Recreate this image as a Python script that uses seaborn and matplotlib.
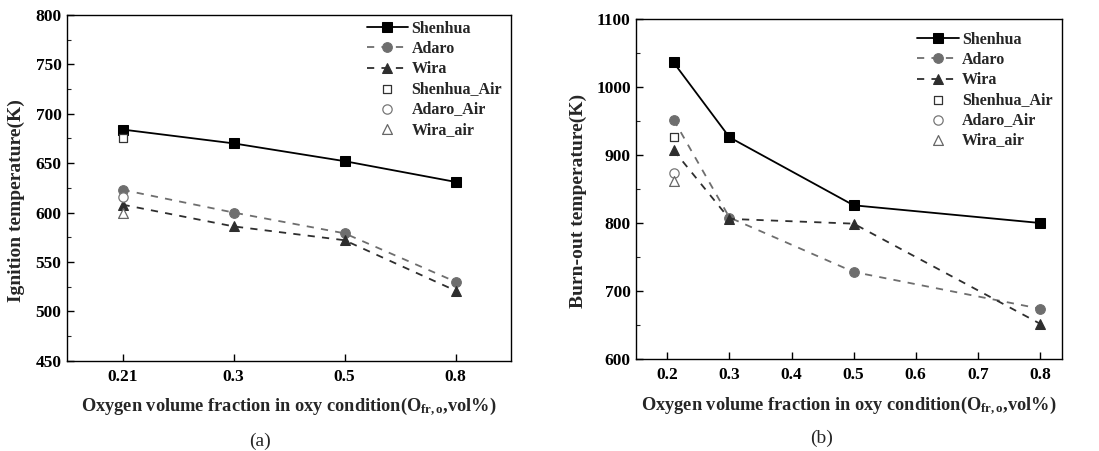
import matplotlib
matplotlib.use("Agg")
import matplotlib.pyplot as plt
import seaborn as sns
from matplotlib.ticker import MultipleLocator

sns.set_theme(style="ticks")
plt.rcParams['font.family'] = ['Liberation Serif', 'DejaVu Serif']
plt.rcParams['font.weight'] = 'bold'
plt.rcParams['mathtext.fontset'] = 'custom'
plt.rcParams['mathtext.rm'] = 'Liberation Serif:bold'
plt.rcParams['mathtext.bf'] = 'Liberation Serif:bold'
plt.rcParams['mathtext.it'] = 'Liberation Serif:bold'

# ---- data (a) ignition temperature ----
cats_a = ["0.21", "0.3", "0.5", "0.8"]
shenhua_a = [684, 670, 652, 631]
adaro_a = [623, 600, 579, 530]
wira_a = [608, 586, 572, 521]
air_x_a = ["0.21"]
shenhua_air_a = [675]
adaro_air_a = [616]
wira_air_a = [600]

# ---- data (b) burn-out temperature ----
x_b = [0.21, 0.3, 0.5, 0.8]
shenhua_b = [1036, 926, 826, 800]
adaro_b = [952, 808, 728, 674]
wira_b = [907, 806, 799, 652]
air_x_b = [0.21]
shenhua_air_b = [927]
adaro_air_b = [874]
wira_air_b = [862]

fig = plt.figure(figsize=(10.99, 4.51), dpi=100)
ax1 = fig.add_axes([0.061, 0.2, 0.404, 0.767])
ax2 = fig.add_axes([0.579, 0.204, 0.387, 0.754])

C_SH = "#000000"
C_AD = "#6e6e6e"
C_WI = "#2e2e2e"


def draw(ax, x, sh, ad, wi, ax_air, sha, ada, wia):
    sns.lineplot(x=x, y=sh, ax=ax, color=C_SH, marker="s", markersize=7,
                 markeredgecolor=C_SH, lw=1.3, label="Shenhua", sort=False)
    sns.lineplot(x=x, y=ad, ax=ax, color=C_AD, marker="o", markersize=7,
                 markeredgecolor=C_AD, lw=1.3, linestyle=(0, (4, 4)), label="Adaro", sort=False)
    sns.lineplot(x=x, y=wi, ax=ax, color=C_WI, marker="^", markersize=7,
                 markeredgecolor=C_WI, lw=1.3, linestyle=(0, (4, 4)), label="Wira", sort=False)
    sns.scatterplot(x=ax_air, y=sha, ax=ax, marker="s", s=40, facecolor="white",
                    edgecolor="#333333", linewidth=0.9, label="Shenhua_Air", zorder=3)
    sns.scatterplot(x=ax_air, y=ada, ax=ax, marker="o", s=45, facecolor="white",
                    edgecolor="#777777", linewidth=0.9, label="Adaro_Air", zorder=3)
    sns.scatterplot(x=ax_air, y=wia, ax=ax, marker="^", s=50, facecolor="white",
                    edgecolor="#666666", linewidth=0.9, label="Wira_air", zorder=3)


draw(ax1, cats_a, shenhua_a, adaro_a, wira_a, air_x_a, shenhua_air_a, adaro_air_a, wira_air_a)
draw(ax2, x_b, shenhua_b, adaro_b, wira_b, air_x_b, shenhua_air_b, adaro_air_b, wira_air_b)

ax1.set_xlim(-0.5, 3.5)
ax1.set_ylim(450, 800)
ax1.yaxis.set_major_locator(MultipleLocator(50))
ax1.yaxis.set_minor_locator(MultipleLocator(25))
ax1.set_ylabel("Ignition temperature(K)", fontsize=14, fontweight="bold")
ax1.yaxis.set_label_coords(-0.095, 0.462)

ax2.set_xlim(0.15, 0.835)
ax2.set_ylim(600, 1100)
ax2.set_xticks([0.2, 0.3, 0.4, 0.5, 0.6, 0.7, 0.8])
ax2.set_xticklabels(["0.2", "0.3", "0.4", "0.5", "0.6", "0.7", "0.8"])
ax2.yaxis.set_major_locator(MultipleLocator(100))
ax2.yaxis.set_minor_locator(MultipleLocator(50))
ax2.set_ylabel("Burn-out temperature(K)", fontsize=14, fontweight="bold")
ax2.yaxis.set_label_coords(-0.115, 0.465)

xlab = r"Oxygen volume fraction in oxy condition(O$_{\mathbf{fr,o}}$,vol%)"
for ax in (ax1, ax2):
    ax.set_xlabel(xlab, fontsize=13.2, fontweight="bold", labelpad=8)
    for s in ax.spines.values():
        s.set_color("black")
        s.set_linewidth(1.0)
    ax.tick_params(axis="both", which="major", direction="in", length=5, width=1,
                   labelsize=12.5, colors="black")
    ax.tick_params(axis="x", which="major", pad=6)
    ax.tick_params(axis="y", which="major", pad=4)
    ax.tick_params(axis="y", which="minor", direction="in", length=3, width=0.8)
    for lab in ax.get_xticklabels() + ax.get_yticklabels():
        lab.set_fontweight("bold")
    ax.grid(False)

leg1 = ax1.legend(loc="upper right", bbox_to_anchor=(1.005, 1.015), frameon=False,
                  fontsize=11.5, labelspacing=0.26, handlelength=2.6, handletextpad=0.2,
                  borderaxespad=0.3)
leg2 = ax2.legend(loc="upper right", bbox_to_anchor=(1.005, 0.995), frameon=False,
                  fontsize=11.5, labelspacing=0.26, handlelength=2.6, handletextpad=0.2,
                  borderaxespad=0.3)
for leg in (leg1, leg2):
    for t in leg.get_texts():
        t.set_fontweight("bold")

fig.text(0.2365, 0.002, "(a)", ha="center", va="bottom", fontsize=14, fontweight="normal")
fig.text(0.748, 0.008, "(b)", ha="center", va="bottom", fontsize=14, fontweight="normal")

fig.savefig("out.png", dpi=100, facecolor="white")
